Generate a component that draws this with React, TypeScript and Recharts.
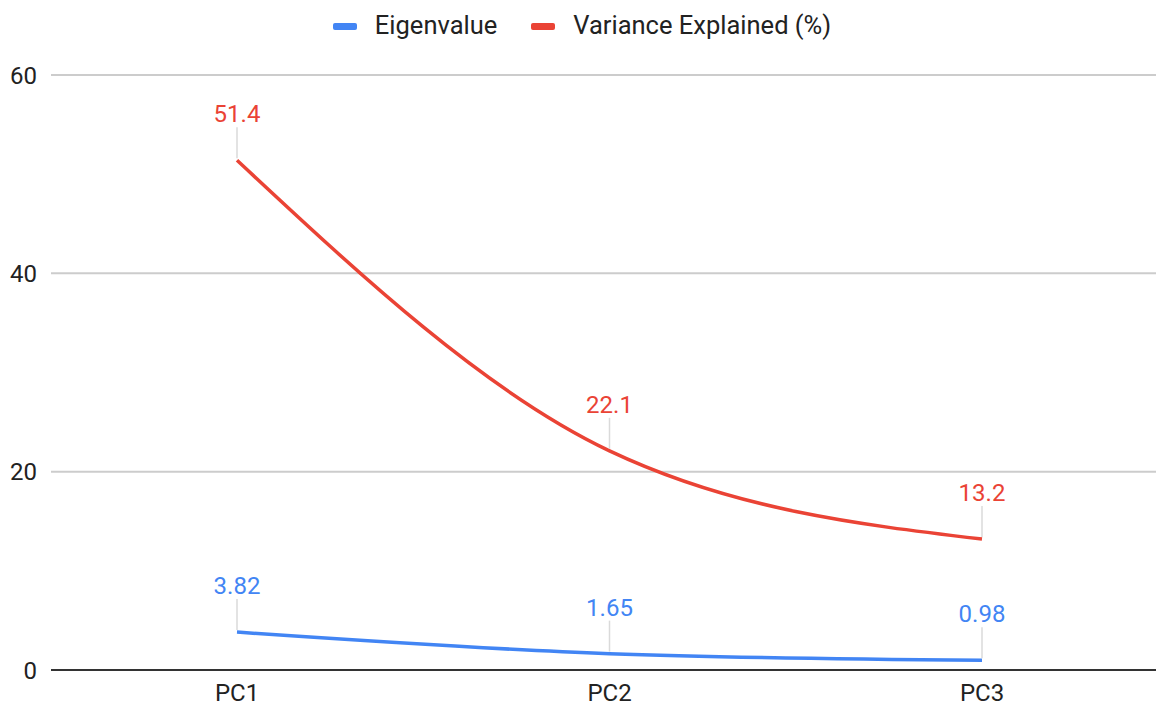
import React from "react";
import { LineChart, Line, XAxis, YAxis, CartesianGrid, Legend, LabelList } from "recharts";

const categories = ["PC1", "PC2", "PC3"];
const eigenvalues = [3.82, 1.65, 0.98];
const varianceExplained = [51.4, 22.1, 13.2];
const yTicks = [0, 20, 40, 60];

const BLUE = "#4285F4";
const RED = "#EA4335";
const FONT = "Roboto, 'Noto Sans', sans-serif";

const data = categories.map((c, i) => ({
  name: c,
  eigen: eigenvalues[i],
  variance: varianceExplained[i],
}));

const makeLabel = (color: string) => (props: any) => {
  const { x, y, value } = props;
  if (x == null || y == null) return null;
  return (
    <g>
      <line x1={x} y1={y - 2} x2={x} y2={y - 33} stroke="#dadada" strokeWidth={1.5} />
      <text
        x={x}
        y={y - 38}
        textAnchor="middle"
        fill={color}
        fontSize={24}
        fontFamily={FONT}
      >
        {value}
      </text>
    </g>
  );
};

const legendItems = [
  { label: "Eigenvalue", color: BLUE },
  { label: "Variance Explained (%)", color: RED },
];

const LegendContent = () => (
  <div
    style={{
      display: "flex",
      justifyContent: "center",
      alignItems: "center",
      height: 50,
      paddingLeft: 8,
      boxSizing: "border-box",
      fontFamily: FONT,
      fontSize: 25.5,
      color: "#222",
    }}
  >
    {legendItems.map((it, i) => (
      <div
        key={it.label}
        style={{ display: "flex", alignItems: "center", marginLeft: i === 0 ? 0 : 34 }}
      >
        <div
          style={{
            width: 24,
            height: 7,
            background: it.color,
            borderRadius: 2,
            marginRight: 18,
            marginTop: 3,
          }}
        />
        <span>{it.label}</span>
      </div>
    ))}
  </div>
);

export default function App() {
  return (
    <div style={{ position: "absolute", left: 0, top: 0, background: "#fff" }}>
      <LineChart
        width={1156}
        height={704}
        data={data}
        margin={{ top: 25, right: 0, bottom: 0, left: 0 }}
      >
        <CartesianGrid vertical={false} stroke="#cccccc" strokeWidth={2} />
        <XAxis
          dataKey="name"
          height={34}
          padding={{ left: 186, right: 174 }}
          axisLine={{ stroke: "#333333", strokeWidth: 2 }}
          tickLine={false}
          tickMargin={8}
          tick={{ fill: "#222", fontSize: 24, fontFamily: FONT }}
        />
        <YAxis
          width={51}
          domain={[0, 60]}
          ticks={yTicks}
          axisLine={false}
          tickLine={false}
          tickMargin={8}
          tick={{ fill: "#222", fontSize: 24, fontFamily: FONT }}
        />
        <Legend
          verticalAlign="top"
          align="center"
          height={50}
          wrapperStyle={{ top: 0, left: 0, width: 1156 }}
          content={<LegendContent />}
        />
        <Line
          type="monotone"
          dataKey="eigen"
          stroke={BLUE}
          strokeWidth={3.5}
          dot={false}
          isAnimationActive={false}
        >
          <LabelList dataKey="eigen" content={makeLabel(BLUE)} />
        </Line>
        <Line
          type="monotone"
          dataKey="variance"
          stroke={RED}
          strokeWidth={3.5}
          dot={false}
          isAnimationActive={false}
        >
          <LabelList dataKey="variance" content={makeLabel(RED)} />
        </Line>
      </LineChart>
    </div>
  );
}
